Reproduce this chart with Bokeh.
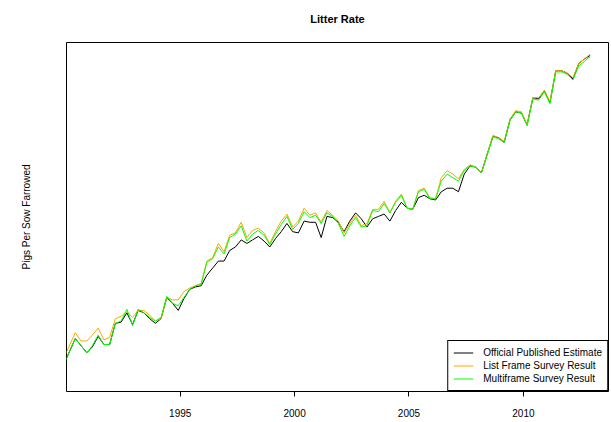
import pandas as pd
from bokeh.plotting import figure
from bokeh.models import Range1d, FixedTicker, Legend, LegendItem, Title
from bokeh.embed import file_html
from bokeh.resources import INLINE

# quarterly estimates, Dec 1989 .. Dec 2012
official = [7.73,
            7.84, 7.95, 7.89, 7.83, 7.88, 7.97, 7.90, 7.90,
            8.08, 8.09, 8.17, 8.07, 8.19, 8.17, 8.12, 8.08,
            8.12, 8.30, 8.25, 8.19, 8.29, 8.37, 8.39, 8.40,
            8.49, 8.55, 8.61, 8.61, 8.70, 8.73, 8.79, 8.76,
            8.79, 8.82, 8.78, 8.73, 8.80, 8.86, 8.93, 8.86,
            8.85, 8.95, 8.94, 8.94, 8.81, 8.99, 8.98, 8.94,
            8.86, 8.95, 9.02, 8.97, 8.90, 8.97, 8.99, 9.01,
            8.95, 9.04, 9.11, 9.06, 9.05, 9.15, 9.17, 9.14,
            9.13, 9.20, 9.23, 9.23, 9.20, 9.35, 9.42, 9.41,
            9.36, 9.52, 9.67, 9.66, 9.62, 9.81, 9.88, 9.87,
            9.77, 10.00, 9.99, 10.06, 9.96, 10.23, 10.23, 10.21,
            10.16, 10.29, 10.33, 10.36]
list_frame = [7.79,
              7.89, 8.00, 7.93, 7.93, 7.98, 8.04, 7.94, 7.96,
              8.12, 8.14, 8.18, 8.13, 8.19, 8.19, 8.15, 8.10,
              8.12, 8.30, 8.28, 8.28, 8.35, 8.38, 8.40, 8.42,
              8.61, 8.64, 8.76, 8.69, 8.83, 8.85, 8.94, 8.81,
              8.87, 8.89, 8.85, 8.76, 8.86, 8.95, 9.01, 8.90,
              8.95, 9.06, 9.00, 9.02, 8.94, 9.04, 9.00, 8.95,
              8.85, 8.93, 9.00, 8.91, 8.93, 9.05, 9.05, 9.12,
              9.02, 9.12, 9.18, 9.06, 9.05, 9.21, 9.23, 9.15,
              9.14, 9.32, 9.38, 9.35, 9.31, 9.39, 9.43, 9.41,
              9.36, 9.52, 9.68, 9.66, 9.63, 9.82, 9.89, 9.88,
              9.77, 10.00, 10.00, 10.06, 9.97, 10.23, 10.23, 10.21,
              10.17, 10.29, 10.33, 10.37]
multiframe = [7.73,
              7.84, 7.95, 7.89, 7.83, 7.89, 7.98, 7.90, 7.90,
              8.08, 8.10, 8.20, 8.06, 8.20, 8.17, 8.13, 8.10,
              8.13, 8.31, 8.25, 8.23, 8.30, 8.37, 8.40, 8.41,
              8.60, 8.63, 8.73, 8.67, 8.81, 8.84, 8.91, 8.78,
              8.84, 8.87, 8.83, 8.75, 8.84, 8.92, 8.99, 8.88,
              8.93, 9.03, 8.98, 9.00, 8.93, 9.02, 8.99, 8.93,
              8.82, 8.91, 8.98, 8.90, 8.91, 9.04, 9.03, 9.10,
              9.02, 9.11, 9.17, 9.06, 9.05, 9.20, 9.22, 9.14,
              9.14, 9.29, 9.35, 9.32, 9.29, 9.38, 9.42, 9.41,
              9.36, 9.51, 9.67, 9.65, 9.62, 9.81, 9.88, 9.87,
              9.76, 9.99, 9.98, 10.05, 9.95, 10.22, 10.22, 10.20,
              10.15, 10.27, 10.31, 10.35]
series_names = ["Official Published Estimate", "List Frame Survey Result", "Multiframe Survey Result"]
year_ticks = [1995, 2000, 2005, 2010]

dates = pd.date_range("1989-12-01", periods=len(official), freq="3MS")
t = list(dates.year + (dates.dayofyear - 1) / 365.0)

FONT = "Liberation Sans"

p = figure(width=611, height=422, output_backend="svg", toolbar_location=None,
           x_range=Range1d(1990.03, 2013.72), y_range=Range1d(7.5, 10.47),
           min_border_left=66, min_border_right=3, min_border_top=42, min_border_bottom=31,
           title="Litter Rate")
p.grid.visible = False
p.outline_line_color = "black"
p.outline_line_alpha = 1.0
p.background_fill_color = "white"
p.border_fill_color = "white"

p.title.align = "center"
p.title.text_font = FONT
p.title.text_font_size = "11px"
p.title.text_font_style = "bold"
p.title.text_color = "black"
p.title.standoff = 0

# empty spacer between title and frame, pushes the title up
p.add_layout(Title(text=" ", text_font_size="2px", standoff=14), "above")

p.xaxis.ticker = FixedTicker(ticks=year_ticks, minor_ticks=[])
p.xaxis.axis_line_color = None
p.xaxis.major_tick_in = 0
p.xaxis.major_tick_out = 5
p.xaxis.major_tick_line_color = "black"
p.xaxis.major_label_text_font = FONT
p.xaxis.major_label_text_font_size = "10px"
p.xaxis.major_label_text_color = "black"
p.xaxis.major_label_standoff = 12

p.yaxis.ticker = FixedTicker(ticks=[], minor_ticks=[])
p.yaxis.axis_line_color = None
p.yaxis.major_tick_line_color = None
p.yaxis.minor_tick_line_color = None
p.yaxis.major_label_standoff = 0
p.yaxis.axis_label = "Pigs Per Sow Farrowed"
p.yaxis.axis_label_text_font = FONT
p.yaxis.axis_label_text_font_size = "10px"
p.yaxis.axis_label_text_font_style = "normal"
p.yaxis.axis_label_text_color = "black"
p.yaxis.axis_label_standoff = 35

r1 = p.line(t, official, line_color="black", line_width=1)
r2 = p.line(t, list_frame, line_color="orange", line_width=1)
r3 = p.line(t, multiframe, line_color="#00FF00", line_width=1)

legend = Legend(items=[LegendItem(label=series_names[0], renderers=[r1]),
                       LegendItem(label=series_names[1], renderers=[r2]),
                       LegendItem(label=series_names[2], renderers=[r3])],
                location="bottom_right", margin=0, padding=5, spacing=0,
                glyph_width=20, glyph_height=13, label_height=13, label_standoff=10,
                label_text_font=FONT, label_text_font_size="10px", label_text_color="black",
                border_line_color="black", border_line_alpha=1.0, border_line_width=1)
p.add_layout(legend)

open("out.html", "w").write(file_html(p, INLINE))
